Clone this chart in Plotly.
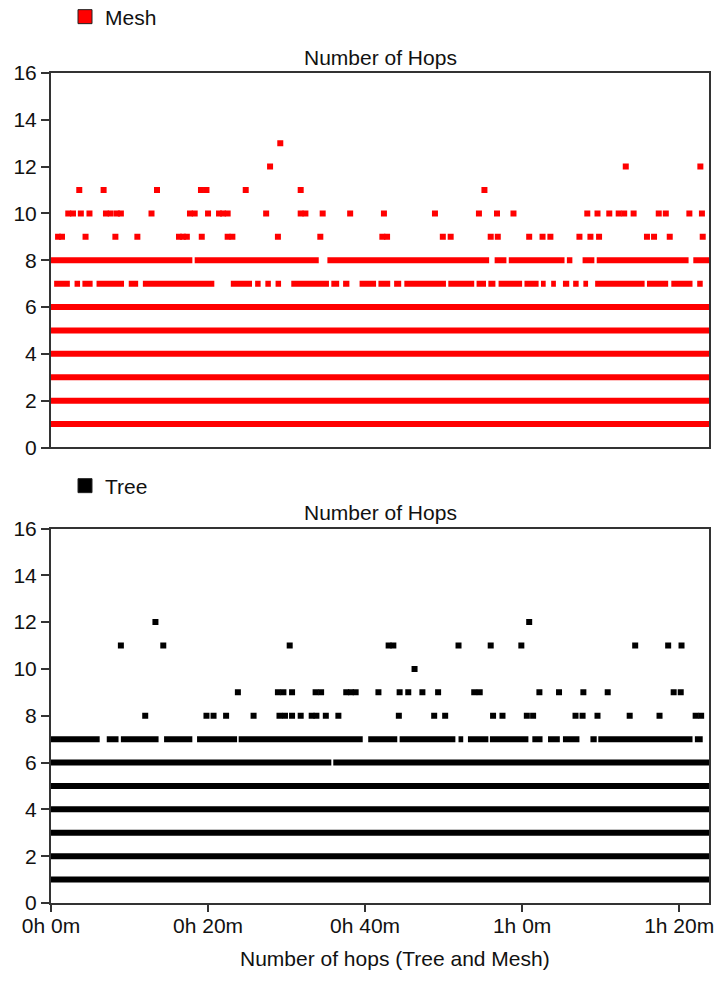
import plotly.graph_objects as go
from plotly.subplots import make_subplots

# ---------------- data (time in minutes, value = number of hops) ----------------
x_end = 83.8
tick_minutes = [0, 20, 40, 60, 80]
tick_labels = ["0h 0m", "0h 20m", "0h 40m", "1h 0m", "1h 20m"]
y_ticks = [0, 2, 4, 6, 8, 10, 12, 14, 16]

# Mesh: continuous hop levels, interrupted level runs, and isolated samples
mesh_full_levels = [1, 2, 3, 4, 5, 6]
mesh_runs_8 = [(0, 18.0), (18.3, 34.1), (35.2, 55.8), (56.5, 58.0), (58.3, 65.4),
               (65.7, 66.4), (67.7, 69.2), (69.5, 81.2), (81.8, 83.8)]
mesh_runs_7 = [(0.4, 2.4), (3.0, 3.7), (4.0, 5.3), (5.8, 9.3), (9.9, 11.1), (11.7, 20.8),
               (22.9, 25.6), (26.0, 26.7), (27.3, 28.0), (28.6, 29.3), (30.6, 35.4),
               (35.7, 36.7), (37.2, 38.0), (39.3, 41.4), (41.7, 43.2), (43.7, 44.6),
               (45.0, 50.3), (50.6, 53.9), (54.2, 55.4), (55.7, 56.6), (57.0, 60.0),
               (60.3, 62.1), (62.4, 63.0), (63.7, 64.3), (65.2, 66.0), (66.5, 67.2),
               (67.8, 68.4), (69.3, 75.6), (75.9, 78.6), (79.0, 81.7), (82.3, 83.0)]
mesh_pts_13 = [29.2]
mesh_pts_12 = [27.9, 73.2, 82.7]
mesh_pts_11 = [3.6, 6.7, 13.5, 19.1, 19.8, 24.8, 31.8, 55.2]
mesh_pts_10 = [2.2, 2.8, 3.8, 4.9, 7.0, 7.6, 8.4, 8.9, 12.8, 17.7, 18.3, 20.0, 21.4,
               21.9, 22.5, 27.4, 31.8, 32.4, 34.6, 38.1, 42.4, 48.9, 54.5, 56.8, 58.9,
               68.3, 69.6, 71.1, 72.3, 73.0, 74.2, 77.4, 78.3, 81.3, 82.9]
mesh_pts_9 = [0.9, 1.4, 4.4, 8.2, 11.0, 16.3, 16.8, 17.3, 19.2, 22.5, 23.1, 28.9, 34.3,
              42.2, 42.8, 49.9, 50.9, 56.0, 56.9, 60.9, 62.6, 63.6, 67.3, 68.7, 69.8,
              75.9, 76.8, 78.8, 83.0]

# Tree
tree_full_levels = [1, 2, 3, 4, 5]
tree_runs_6 = [(0, 35.7), (35.95, 83.8)]
tree_runs_7 = [(0, 6.2), (7.1, 8.6), (8.9, 13.7), (14.4, 18.0), (18.6, 23.7), (23.9, 39.7),
               (40.4, 44.1), (44.4, 51.5), (51.9, 52.5), (53.1, 55.7), (55.9, 60.8),
               (61.3, 62.6), (63.3, 64.8), (65.2, 67.3), (68.7, 69.5), (69.7, 81.7),
               (82.0, 83.0)]
tree_pts_12 = [13.3, 60.9]
tree_pts_11 = [8.9, 14.3, 30.4, 43.0, 43.6, 51.9, 56.0, 59.9, 74.4, 78.6, 80.3]
tree_pts_10 = [46.3]
tree_pts_9 = [23.8, 28.9, 29.6, 30.7, 33.7, 34.4, 37.6, 38.2, 38.8, 41.7, 44.4, 45.5,
              47.3, 49.3, 53.9, 54.6, 62.2, 64.7, 67.8, 70.9, 79.3, 80.2]
tree_pts_8 = [12.0, 19.8, 20.7, 22.3, 25.8, 29.1, 29.8, 30.7, 31.8, 33.2, 33.8, 35.0,
              36.6, 44.3, 48.8, 50.2, 56.3, 57.5, 60.6, 61.4, 66.8, 67.7, 69.6, 73.7,
              77.5, 82.1, 82.8]

# ---------------- build ----------------
FONT = "Liberation Sans, Arial, sans-serif"
RED = "#ff0000"
BLACK = "#000000"


def run_xy(level_runs):
    xs, ys = [], []
    for lvl, runs in level_runs:
        for s, e in runs:
            xs += [s, e, None]
            ys += [lvl, lvl, None]
    return xs, ys


def pts_xy(level_pts):
    xs, ys = [], []
    for lvl, pts in level_pts:
        xs += pts
        ys += [lvl] * len(pts)
    return xs, ys


fig = make_subplots(rows=2, cols=1, vertical_spacing=0.0976)

series = [
    dict(name="Mesh", color=RED, row=1, legend="legend",
         runs=[(l, [(0, x_end)]) for l in mesh_full_levels] + [(8, mesh_runs_8), (7, mesh_runs_7)],
         pts=[(13, mesh_pts_13), (12, mesh_pts_12), (11, mesh_pts_11), (10, mesh_pts_10), (9, mesh_pts_9)]),
    dict(name="Tree", color=BLACK, row=2, legend="legend2",
         runs=[(l, [(0, x_end)]) for l in tree_full_levels] + [(6, tree_runs_6), (7, tree_runs_7)],
         pts=[(12, tree_pts_12), (11, tree_pts_11), (10, tree_pts_10), (9, tree_pts_9), (8, tree_pts_8)]),
]

for s in series:
    rx, ry = run_xy(s["runs"])
    fig.add_trace(go.Scatter(x=rx, y=ry, mode="lines", line=dict(color=s["color"], width=6),
                             showlegend=False, hoverinfo="skip"), row=s["row"], col=1)
    px, py = pts_xy(s["pts"])
    fig.add_trace(go.Scatter(x=px, y=py, mode="markers",
                             marker=dict(symbol="square", size=6, color=s["color"], line=dict(width=0)),
                             showlegend=False), row=s["row"], col=1)
    # legend entry
    fig.add_trace(go.Scatter(x=[None], y=[None], mode="markers", name=s["name"], legend=s["legend"],
                             marker=dict(symbol="square", size=14, color=s["color"],
                                         line=dict(color="#222", width=1))), row=s["row"], col=1)

axis_common = dict(showline=True, linecolor="#333", linewidth=2, mirror=True,
                   showgrid=False, zeroline=False,
                   tickfont=dict(family=FONT, size=21, color="#111"))

fig.update_yaxes(range=[0, 16], tickvals=y_ticks, ticks="outside", ticklen=8,
                 tickwidth=2, tickcolor="#333", **axis_common)
fig.update_xaxes(range=[0, x_end], **axis_common)
fig.update_xaxes(showticklabels=False, ticks="", row=1, col=1)
fig.update_xaxes(tickvals=tick_minutes, ticktext=tick_labels, ticks="outside",
                 ticklen=7, tickwidth=2, tickcolor="#333", ticklabelstandoff=-4, row=2, col=1)

annot_font = dict(family=FONT, size=21, color="#111")
fig.update_layout(
    width=715, height=999,
    margin=dict(l=51, r=6, t=73, b=96, autoexpand=False),
    plot_bgcolor="white", paper_bgcolor="white",
    font=dict(family=FONT, size=21, color="#111"),
    legend=dict(x=65 / 715, y=1 - 17 / 999, xref="container", yref="container",
                xanchor="left", yanchor="middle", font=annot_font, bgcolor="rgba(0,0,0,0)"),
    legend2=dict(x=65 / 715, y=1 - 486 / 999, xref="container", yref="container",
                 xanchor="left", yanchor="middle", font=annot_font, bgcolor="rgba(0,0,0,0)"),
    annotations=[
        dict(text="Number of Hops", x=0.5, y=1 + 16 / 830, xref="paper", yref="paper",
             xanchor="center", yanchor="middle", showarrow=False, font=annot_font),
        dict(text="Number of Hops", x=0.5, y=(903 - 512) / 830, xref="paper", yref="paper",
             xanchor="center", yanchor="middle", showarrow=False, font=annot_font),
        dict(text="Number of hops (Tree and Mesh)", x=(395 - 51) / 658, y=(903 - 958) / 830,
             xref="paper", yref="paper", xanchor="center", yanchor="middle",
             showarrow=False, font=annot_font),
    ],
)

fig.write_html("out.html", config={"displayModeBar": False},
               post_script="document.body.style.margin='0';document.body.style.overflow='hidden';")
